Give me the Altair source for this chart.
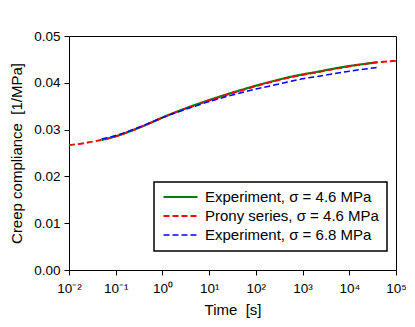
import altair as alt
import pandas as pd

series_names = ["Experiment, σ = 4.6 MPa", "Prony series, σ = 4.6 MPa", "Experiment, σ = 6.8 MPa"]

t_green = [0.05, 0.1, 0.2, 0.5, 1, 2, 5, 10, 20, 50, 100, 200, 500, 1000, 2000, 5000, 1e4, 2e4, 4e4]
j_green = [0.0278, 0.0285, 0.0296, 0.0312, 0.0326, 0.0338, 0.0353, 0.0363, 0.0373, 0.0385, 0.0394, 0.0402, 0.0412, 0.0418, 0.0423, 0.0431, 0.0436, 0.0440, 0.0444]

t_red = [0.01, 0.02, 0.05, 0.1, 0.2, 0.5, 1, 2, 5, 10, 20, 50, 100, 200, 500, 1000, 2000, 5000, 1e4, 2e4, 4e4, 1e5]
j_red = [0.0267, 0.0270, 0.0278, 0.0285, 0.0296, 0.0312, 0.0326, 0.0338, 0.0352, 0.0362, 0.0372, 0.0384, 0.0393, 0.0401, 0.0411, 0.0417, 0.0422, 0.0430, 0.0435, 0.0440, 0.0444, 0.0447]

t_blue = [0.05, 0.1, 0.2, 0.5, 1, 2, 5, 10, 20, 50, 100, 200, 500, 1000, 2000, 5000, 1e4, 2e4, 4e4]
j_blue = [0.0280, 0.0287, 0.0297, 0.0313, 0.0326, 0.0337, 0.0350, 0.0360, 0.0369, 0.0379, 0.0387, 0.0393, 0.0402, 0.0409, 0.0413, 0.0420, 0.0425, 0.0429, 0.0433]

x_ticks = [0.01, 0.1, 1, 10, 100, 1000, 1e4, 1e5]
y_ticks = [0.0, 0.01, 0.02, 0.03, 0.04, 0.05]

rows = []
for name, ts, js in [(series_names[0], t_green, j_green),
                     (series_names[1], t_red, j_red),
                     (series_names[2], t_blue, j_blue)]:
    for t, j in zip(ts, js):
        rows.append({"series": name, "t": t, "J": j})
df = pd.DataFrame(rows)

FONT = "Liberation Sans"

chart = alt.Chart(df).mark_line(interpolate="basis").encode(
    x=alt.X("t:Q", scale=alt.Scale(type="log", domain=[0.01, 1e5], nice=False),
            axis=alt.Axis(title="Time\u00a0 [s]", values=x_ticks, grid=False, labelFlush=False,
                          labelExpr="'10' + ['⁻²','⁻¹','⁰','¹','²','³','⁴','⁵'][round(log(datum.value)/LN10)+2]",
                          tickSize=5, labelPadding=6, titlePadding=8)),
    y=alt.Y("J:Q", scale=alt.Scale(domain=[0, 0.05], nice=False),
            axis=alt.Axis(title="Creep compliance\u00a0 [1/MPa]", values=y_ticks, format=".2f",
                          grid=False, tickSize=5, labelPadding=4, titlePadding=9, labelFlush=False)),
    color=alt.Color("series:N", sort=series_names,
                    scale=alt.Scale(domain=series_names, range=["#008000", "#ff0000", "#0000ff"]),
                    legend=alt.Legend(title=None, orient="none", legendX=85, legendY=146,
                                      symbolType="stroke", symbolSize=1156, clipHeight=14,
                                      labelFontSize=15, labelFont=FONT, labelColor="black",
                                      strokeColor="black", fillColor="white", padding=8,
                                      rowPadding=4, labelOffset=6, labelLimit=300)),
    strokeDash=alt.StrokeDash("series:N", sort=series_names,
                              scale=alt.Scale(domain=series_names, range=[[1, 0], [6, 3], [6, 3]]),
                              legend=alt.Legend(title=None)),
    strokeWidth=alt.StrokeWidth("series:N", sort=series_names,
                                scale=alt.Scale(domain=series_names, range=[2.2, 1.5, 1.5]),
                                legend=alt.Legend(title=None)),
    order=alt.Order("t:Q"),
).properties(
    width=327, height=234,
    autosize=alt.AutoSizeParams(type="none"),
    padding={"left": 61, "top": 28, "right": 10, "bottom": 49},
).configure_view(
    stroke="black", strokeWidth=1
).configure_axis(
    domainColor="black", tickColor="black", labelColor="black", titleColor="black",
    labelFont=FONT, titleFont=FONT, labelFontSize=13.5, titleFontSize=15, titleFontWeight="normal"
).configure_legend(
    strokeWidth=1.5
)

chart.save("out.html", embed_options={"renderer": "svg", "actions": False})
